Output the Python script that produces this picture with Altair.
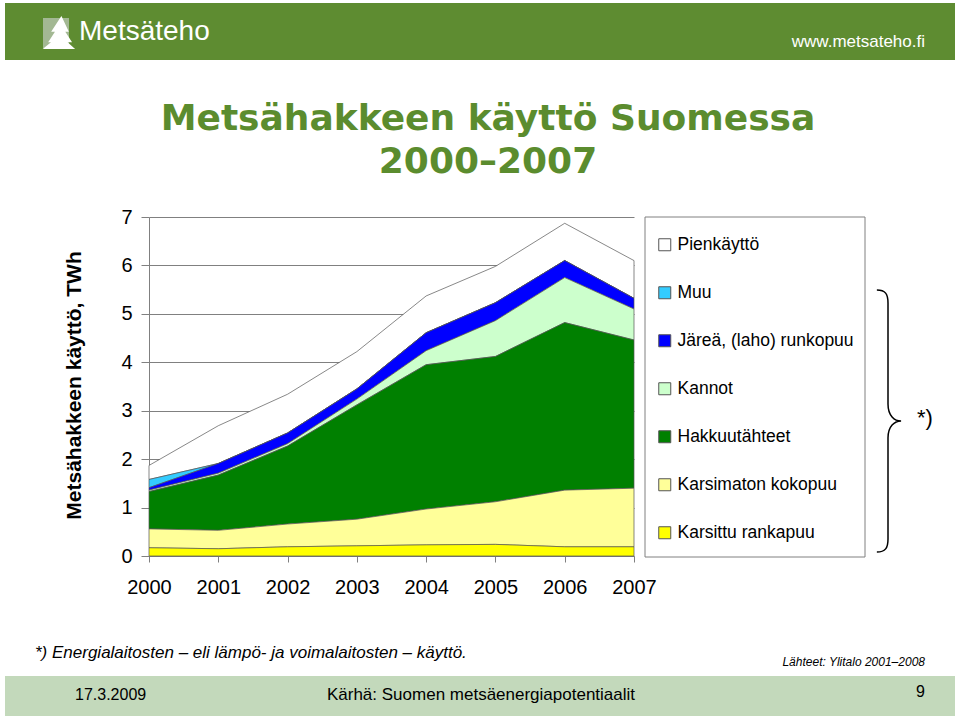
import altair as alt
import pandas as pd

# ---------------- data ----------------
years = [2000, 2001, 2002, 2003, 2004, 2005, 2006, 2007]
categories = ["Pienkäyttö", "Muu", "Järeä, (laho) runkopuu", "Kannot",
              "Hakkuutähteet", "Karsimaton kokopuu", "Karsittu rankapuu"]
colors = ["#FFFFFF", "#33CCFF", "#0000FF", "#CCFFCC", "#008000", "#FFFF99", "#FFFF00"]

pienkaytto    = [0.29, 0.78, 0.80, 0.77, 0.76, 0.75, 0.77, 0.78]
muu           = [0.17, 0.00, 0.00, 0.00, 0.00, 0.00, 0.00, 0.00]
jarea         = [0.05, 0.20, 0.22, 0.21, 0.37, 0.37, 0.35, 0.22]
kannot        = [0.03, 0.04, 0.05, 0.12, 0.29, 0.74, 0.93, 0.64]
hakkuutahteet = [0.77, 1.14, 1.61, 2.36, 2.98, 3.00, 3.46, 3.06]
karsimaton    = [0.39, 0.38, 0.47, 0.55, 0.74, 0.88, 1.17, 1.21]
karsittu      = [0.17, 0.15, 0.19, 0.21, 0.23, 0.24, 0.19, 0.19]

y_ticks = [0, 1, 2, 3, 4, 5, 6, 7]

series = [pienkaytto, muu, jarea, kannot, hakkuutahteet, karsimaton, karsittu]
rows = []
for ci, (cat, vals) in enumerate(zip(categories, series)):
    for yr, v in zip(years, vals):
        rows.append({"year": yr, "cat": cat, "value": v, "ord": len(categories) - 1 - ci})
df = pd.DataFrame(rows)

# ---------------- layout ----------------
OX, OY = 149, 217          # plot origin in page pixels
W, H = 485, 339            # plot area
one = pd.DataFrame({"k": [0]})


def px(x):
    return alt.value(x - OX)


def py(y):
    return alt.value(y - OY)


def rect(x1, y1, x2, y2, **kw):
    return alt.Chart(one).mark_rect(**kw).encode(x=px(x1), x2=px(x2), y=py(y1), y2=py(y2))


def txt(s, x, y, size, font="Liberation Sans", weight="normal", style="normal",
        color="black", align="left", baseline="alphabetic"):
    return alt.Chart(one).mark_text(
        text=s, font=font, fontSize=size, fontWeight=weight, fontStyle=style,
        color=color, align=align, baseline=baseline
    ).encode(x=px(x), y=py(y))


HEADER = "#5E8C31"
FOOTER = "#C3D9BB"
TITLE = "#5B8C2E"

header = rect(5, 3, 955, 60, color=HEADER)
logo_box = rect(43, 18, 69, 48, color="#A3B893")
tree_path = ("M 0.15 -1 L 0.55 -0.15 L 0.3 -0.15 L 0.75 0.55 L 0.4 0.55 "
             "L 0.9 1 L -0.9 1 L -0.35 0.55 L -0.6 0.55 L -0.15 -0.15 L -0.4 -0.15 Z")
tree = alt.Chart(one).mark_point(shape=tree_path, size=900, filled=True,
                                 fill="white", stroke="white", opacity=1).encode(x=px(59), y=py(33))
logo_text = txt("Metsäteho", 79, 40, 28, color="white")
url = txt("www.metsateho.fi", 925, 47, 17, color="white", align="right")

title1 = txt("Metsähakkeen käyttö Suomessa", 488, 130, 36, font="DejaVu Sans",
             weight="bold", color=TITLE, align="center")
title2 = txt("2000–2007", 488, 173, 36, font="DejaVu Sans",
             weight="bold", color=TITLE, align="center")

legend_box = rect(645, 217, 865, 557, fill="white", stroke="#808080", strokeWidth=1)

area = alt.Chart(df).mark_area(stroke="#555555", strokeWidth=0.7, opacity=1).encode(
    x=alt.X("year:Q",
            scale=alt.Scale(domain=[2000, 2007], nice=False, zero=False),
            axis=alt.Axis(values=years, format="d", title=None, grid=False,
                          labelFont="Liberation Sans", labelFontSize=20, labelColor="black",
                          labelFlush=False, tickSize=6, labelPadding=15,
                          domainColor="#808080", tickColor="#808080")),
    y=alt.Y("value:Q", stack="zero",
            scale=alt.Scale(domain=[0, 7], nice=False),
            axis=alt.Axis(values=y_ticks, format="d",
                          title="Metsähakkeen käyttö, TWh",
                          titleFont="Liberation Sans", titleFontSize=21,
                          titleFontWeight="bold", titleColor="black",
                          titleAngle=270, titleAlign="center", titleBaseline="alphabetic",
                          titleX=-69, titleY=168,
                          labelFont="Liberation Sans", labelFontSize=20, labelColor="black",
                          tickSize=8, labelPadding=9,
                          gridColor="#808080", domainColor="#808080", tickColor="#808080")),
    color=alt.Color("cat:N",
                    scale=alt.Scale(domain=categories, range=colors),
                    legend=alt.Legend(orient="none", legendX=656 - OX, legendY=236 - OY,
                                      title=None, symbolType="square", symbolSize=144,
                                      symbolStrokeColor="#555555", symbolStrokeWidth=1,
                                      symbolOpacity=1,
                                      labelFont="Liberation Sans", labelFontSize=17.5,
                                      labelColor="black", labelOffset=4,
                                      rowPadding=29, padding=0, labelLimit=300)),
    order=alt.Order("ord:Q", sort="ascending"),
)

brace_path = ("M -0.085 -1 C -0.02 -1 0 -0.97 0 -0.9 L 0 -0.13 "
              "C 0 -0.04 0.05 0 0.1 0 C 0.05 0 0 0.04 0 0.13 "
              "L 0 0.9 C 0 0.97 -0.02 1 -0.085 1")
brace = alt.Chart(one).mark_point(shape=brace_path, size=262 * 262, filled=False,
                                  stroke="black", strokeWidth=1.5, opacity=1).encode(
    x=px(888), y=py(421))
star = txt("*)", 917, 425, 22)

footnote = txt("*) Energialaitosten – eli lämpö- ja voimalaitosten – käyttö.", 35, 658, 17,
               style="italic")
source = txt("Lähteet: Ylitalo 2001–2008", 925, 666, 12, style="italic", align="right")

footer = rect(5, 676, 955, 716, color=FOOTER)
f_date = txt("17.3.2009", 75, 700, 16)
f_mid = txt("Kärhä: Suomen metsäenergiapotentiaalit", 481, 700, 17, align="center")
f_num = txt("9", 925, 697, 16, align="right")

chart = alt.layer(
    header, logo_box, tree, logo_text, url, title1, title2,
    legend_box, area, brace, star, footnote, source,
    footer, f_date, f_mid, f_num,
).properties(
    width=W, height=H,
    padding={"left": OX, "top": OY, "right": 960 - OX - W, "bottom": 716 - OY - H},
    autosize=alt.AutoSizeParams(type="none"),
    background="white",
).configure_view(stroke=None)

chart.save("out.html", embed_options={"renderer": "svg", "actions": False})
